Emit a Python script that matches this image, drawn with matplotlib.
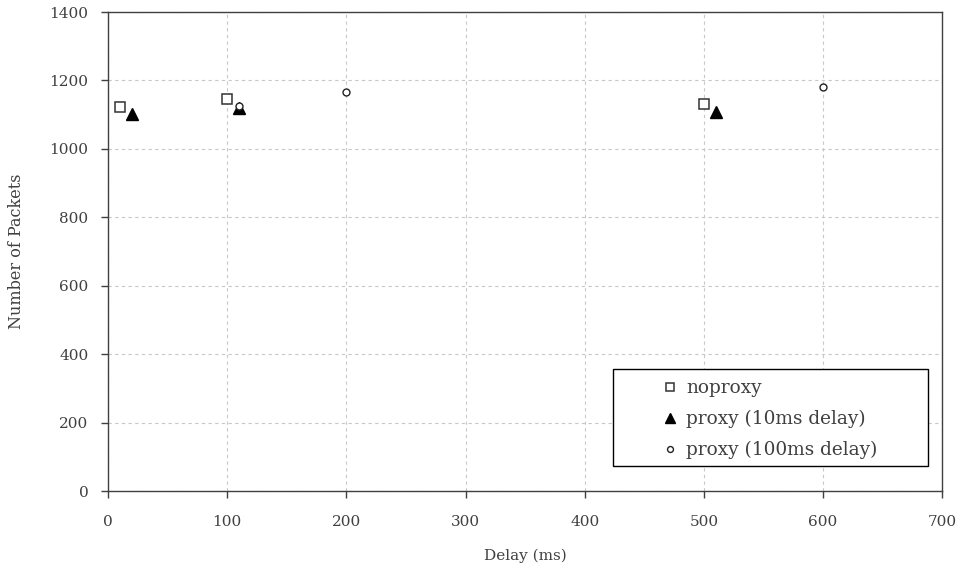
import matplotlib
matplotlib.use('Agg')
import matplotlib.pyplot as plt
from matplotlib.patches import Rectangle

plt.rcParams['font.family'] = ['DejaVu Serif']

# packets received per configured delay
noproxy_x = [10, 100, 500]
noproxy_y = [1122, 1145, 1130]
proxy10_x = [20, 110, 510]
proxy10_y = [1101, 1119, 1108]
proxy100_x = [110, 200, 600]
proxy100_y = [1125, 1167, 1181]

xticks = [0, 100, 200, 300, 400, 500, 600, 700]
yticks = [0, 200, 400, 600, 800, 1000, 1200, 1400]

fg = '#404040'

fig = plt.figure(figsize=(9.6, 5.73), dpi=100)
ax = fig.add_axes([0.1125, 0.143, 0.869, 0.836])

ax.plot(noproxy_x, noproxy_y, 's', ms=6.5, mfc='white', mec='#333333', mew=1.1,
        linestyle='none', label='noproxy')
ax.plot(proxy10_x, proxy10_y, '^', ms=9, color='black',
        linestyle='none', label='proxy (10ms delay)')
ax.plot(proxy100_x, proxy100_y, 'o', ms=5, mfc='white', mec='#222222', mew=1.0,
        linestyle='none', label='proxy (100ms delay)')

ax.set_xlim(0, 700)
ax.set_ylim(0, 1400)
ax.set_xticks(xticks)
ax.set_yticks(yticks)
ax.grid(True, linestyle=(0, (3, 3)), color='#c8c8c8', linewidth=0.8)
ax.set_axisbelow(True)
for s in ax.spines.values():
    s.set_color(fg)
    s.set_linewidth(1.0)
ax.tick_params(direction='out', length=5, width=1.0, color=fg,
               labelsize=11, labelcolor=fg, pad=9)
ax.tick_params(axis='x', pad=12)
ax.set_xlabel('Delay (ms)', fontsize=11, color=fg, labelpad=14)
ax.set_ylabel('Number of Packets', fontsize=11.5, color=fg, labelpad=18)

# legend entries without their own frame, boxed separately
leg = ax.legend(loc='upper left', bbox_to_anchor=(0.665, 0.233), fontsize=13.3,
                frameon=False, handlelength=0.8, handletextpad=0.45,
                borderpad=0, labelspacing=0.68, borderaxespad=0,
                markerscale=0.85)
for t in leg.get_texts():
    t.set_color(fg)
ax.add_patch(Rectangle((0.6055, 0.052), 0.3775, 0.2027, transform=ax.transAxes,
                       facecolor='white', edgecolor='black', linewidth=1.0,
                       zorder=4))
leg.set_zorder(5)

fig.savefig('out.png', dpi=100)
